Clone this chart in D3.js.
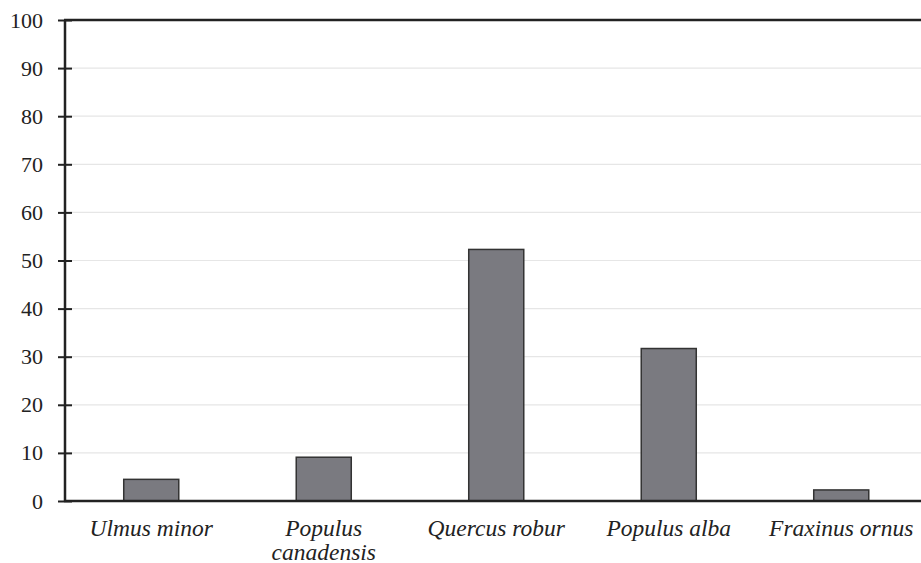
<!DOCTYPE html>
<html>
<head>
<meta charset="utf-8">
<script src="https://cdn.jsdelivr.net/npm/d3@7"></script>
<style>
  body { margin: 0; background: #fff; }
  svg text { fill: #222; }
</style>
</head>
<body>
<div id="chart"></div>
<script>
const chartWidth = 921
const chartHeight = 563
const margin = { top: 20, left: 65, bottom: 62 }

const species = ['Ulmus minor', 'Populus canadensis', 'Quercus robur', 'Populus alba', 'Fraxinus ornus']
const values = [4.5, 9.1, 52.3, 31.7, 2.3]
const tickLabels = [['Ulmus minor'], ['Populus', 'canadensis'], ['Quercus robur'], ['Populus alba'], ['Fraxinus ornus']]
const yTicks = [0, 10, 20, 30, 40, 50, 60, 70, 80, 90, 100]

const serif = '"Liberation Serif", "Times New Roman", serif'

const svg = d3.select('#chart')
    .append('svg')
    .attr('width', chartWidth)
    .attr('height', chartHeight)

const plotBottom = chartHeight - margin.bottom

const xScale = d3.scaleBand()
    .domain(species)
    .range([margin.left, 927.5])
    .paddingInner(0.681)
    .paddingOuter(0.3405)

const yScale = d3.scaleLinear()
    .domain([0, 100])
    .range([plotBottom, margin.top])

// gridlines
svg.append('g')
    .selectAll('line')
    .data(yTicks.filter(d => d > 0 && d < 100))
    .enter()
    .append('line')
    .attr('x1', margin.left)
    .attr('x2', chartWidth)
    .attr('y1', d => yScale(d))
    .attr('y2', d => yScale(d))
    .attr('stroke', '#e6e6e6')
    .attr('stroke-width', 1.2)

// bars
svg.append('g')
    .selectAll('rect')
    .data(values)
    .enter()
    .append('rect')
    .attr('x', (d, i) => xScale(species[i]))
    .attr('width', xScale.bandwidth())
    .attr('y', d => yScale(d))
    .attr('height', d => plotBottom - yScale(d))
    .attr('fill', '#7a7a80')
    .attr('stroke', '#333')
    .attr('stroke-width', 1.5)

// y axis, ticks crossing the axis line
const yAxis = d3.axisLeft(yScale)
    .tickValues(yTicks)
    .tickSize(7)
    .tickPadding(15)
svg.append('g')
    .attr('transform', `translate(${margin.left}, 0)`)
    .call(yAxis)
    .attr('font-family', serif)
    .attr('font-size', 22)
    .call(g => g.select('.domain').remove())
    .call(g => g.selectAll('.tick line').attr('x2', -7).attr('x1', 7).attr('stroke', '#222').attr('stroke-width', 2))
    .call(g => g.selectAll('.tick text').attr('fill', '#222'))

// frame lines
svg.append('line')
    .attr('x1', margin.left).attr('x2', margin.left)
    .attr('y1', margin.top).attr('y2', plotBottom)
    .attr('stroke', '#222').attr('stroke-width', 2.5)
svg.append('line')
    .attr('x1', margin.left - 1).attr('x2', chartWidth)
    .attr('y1', margin.top).attr('y2', margin.top)
    .attr('stroke', '#222').attr('stroke-width', 2.5)

// x axis
const xAxis = d3.axisBottom(xScale).tickSize(0).tickFormat('')
svg.append('g')
    .attr('transform', `translate(0, ${plotBottom})`)
    .call(xAxis)
    .call(g => g.select('.domain').remove())
svg.append('line')
    .attr('x1', margin.left - 1).attr('x2', chartWidth)
    .attr('y1', plotBottom).attr('y2', plotBottom)
    .attr('stroke', '#222').attr('stroke-width', 2.5)

const labels = svg.append('g')
    .attr('font-family', serif)
    .attr('font-size', 23.5)
    .attr('font-style', 'italic')
    .selectAll('text')
    .data(tickLabels)
    .enter()
    .append('text')
    .attr('x', (d, i) => xScale(species[i]) + xScale.bandwidth() / 2)
    .attr('y', plotBottom + 34.5)
    .attr('text-anchor', 'middle')

labels.selectAll('tspan')
    .data(d => d)
    .enter()
    .append('tspan')
    .attr('x', function () { return this.parentNode.getAttribute('x') })
    .attr('dy', (d, i) => i === 0 ? 0 : 24)
    .text(d => d)
</script>
</body>
</html>
